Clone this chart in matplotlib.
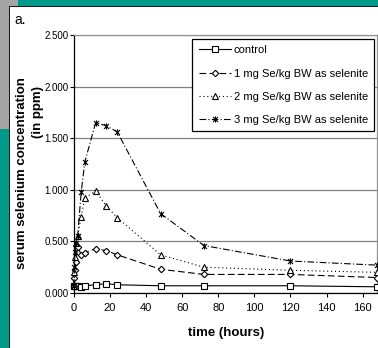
import numpy as np
import matplotlib
matplotlib.use('Agg')
import matplotlib.pyplot as plt
from matplotlib.path import Path
from matplotlib.patches import Rectangle

plt.rcParams['font.family'] = ['Liberation Sans Narrow', 'Liberation Sans', 'DejaVu Sans']

# sampling times (hours) and serum selenium (ppm)
hours = [0, 0.25, 0.5, 1, 2, 4, 6, 12, 18, 24, 48, 72, 120, 168]
control = [0.07, 0.07, 0.07, 0.07, 0.07, 0.06, 0.07, 0.08, 0.09, 0.08, 0.07, 0.07, 0.07, 0.06]
dose1 = [0.07, 0.15, 0.22, 0.30, 0.45, 0.37, 0.39, 0.43, 0.41, 0.37, 0.23, 0.18, 0.18, 0.15]
dose2 = [0.07, 0.20, 0.35, 0.48, 0.55, 0.74, 0.92, 0.99, 0.84, 0.73, 0.37, 0.25, 0.22, 0.20]
dose3 = [0.07, 0.25, 0.40, 0.48, 0.55, 0.98, 1.27, 1.65, 1.62, 1.56, 0.77, 0.46, 0.31, 0.27]

labels = ['control',
          '1 mg Se/kg BW as selenite',
          '2 mg Se/kg BW as selenite',
          '3 mg Se/kg BW as selenite']
yticks = [0.0, 0.5, 1.0, 1.5, 2.0, 2.5]
xticks = [0, 20, 40, 60, 80, 100, 120, 140, 160]

W, H = 378, 348
teal = '#009a8a'
grey = '#a4a4a4'

# excel style asterisk: an X with a vertical bar
star = Path([(-1, -1), (1, 1), (-1, 1), (1, -1), (0, -1.25), (0, 1.25)],
            [Path.MOVETO, Path.LINETO, Path.MOVETO, Path.LINETO, Path.MOVETO, Path.LINETO])

fig = plt.figure(figsize=(W / 100, H / 100), dpi=100, facecolor='white')

def px(x, y, w, h, **kw):
    # rectangle given in pixels from top-left
    fig.patches.append(Rectangle((x / W, 1 - (y + h) / H), w / W, h / H,
                                 transform=fig.transFigure, **kw))

px(0, 0, W, 6, color=teal, lw=0)
px(0, 0, 18, 6, color=grey, lw=0)
px(0, 0, 9, 129, color=grey, lw=0)
px(0, 129, 9, H - 129, color=teal, lw=0)
px(9, 5.5, W - 9, 1.5, color='#1a1a1a', lw=0)
px(8.5, 5.5, 1.5, H - 5.5, color='#1a1a1a', lw=0)

ax = fig.add_axes([74 / W, (H - 293) / H, 303 / W, 258 / H])

series = [
    (control, '-', 's', 4.0),
    (dose1, (0, (6, 3)), 'D', 3.3),
    (dose2, (0, (1, 2.5)), '^', 4.0),
    (dose3, (0, (6, 2, 1, 2)), star, 4.5),
]
for (vals, ls, mk, ms), lab in zip(series, labels):
    ax.plot(hours, vals, color='black', lw=0.8, linestyle=ls, marker=mk,
            markersize=ms, markerfacecolor='white', markeredgecolor='black',
            markeredgewidth=0.8, label=lab, clip_on=False, zorder=3)

ax.set_xlim(0, 168)
ax.set_ylim(0, 2.5)
ax.set_xticks(xticks)
ax.set_yticks(yticks)
ax.set_yticklabels(['%.3f' % v for v in yticks])
ax.tick_params(axis='y', labelsize=7, length=3, width=0.8, pad=1)
ax.tick_params(axis='x', labelsize=8, length=3, width=0.8, pad=4)
ax.grid(axis='y', color='#808080', lw=0.9)
ax.set_axisbelow(True)
for s in ['left', 'bottom']:
    ax.spines[s].set_color('black')
    ax.spines[s].set_linewidth(0.9)
for s in ['top', 'right']:
    ax.spines[s].set_color('#909090')
    ax.spines[s].set_linewidth(0.9)

leg = ax.legend(loc='upper right', bbox_to_anchor=(0.99, 0.984), fontsize=8,
                frameon=True, fancybox=False, edgecolor='black', framealpha=1,
                handlelength=2.9, handletextpad=0.25, labelspacing=1.2,
                borderpad=0.55, borderaxespad=0)
leg.get_frame().set_linewidth(0.9)

fig.text(14 / W, 1 - 20 / H, 'a.', fontsize=10, va='center', ha='left')
fig.text(22 / W, 1 - 173 / H, 'serum selenium concentration', fontsize=9.5,
         fontweight='bold', rotation=90, ha='center', va='center')
fig.text(38 / W, 1 - 112 / H, '(in ppm)', fontsize=9.5,
         fontweight='bold', rotation=90, ha='center', va='center')
fig.text(226 / W, 1 - 333 / H, 'time (hours)', fontsize=9.5,
         fontweight='bold', ha='center', va='center')

fig.savefig('out.png', dpi=100, facecolor='white')
